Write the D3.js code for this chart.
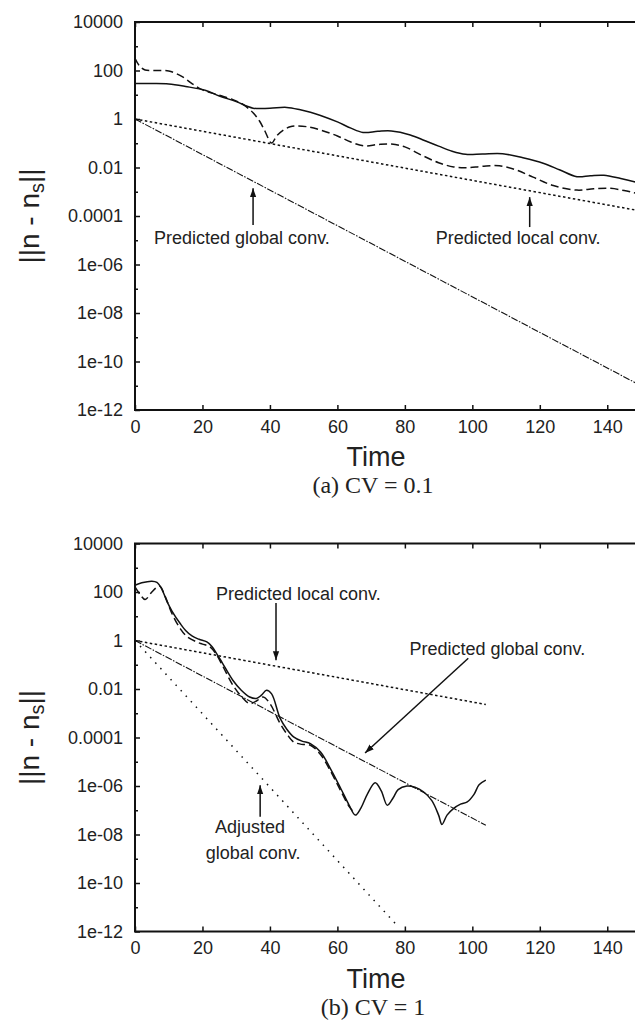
<!DOCTYPE html>
<html>
<head>
<meta charset="utf-8">
<script src="https://cdn.jsdelivr.net/npm/d3@7"></script>
<style>
  body { margin: 0; background: #fff; }
  svg { display: block; }
  .tick text { font-family: "Liberation Sans", Arial, sans-serif; font-size: 18px; fill: #222; }
  .tick line { stroke: #111; stroke-width: 1.5; }
  .note { font-family: "Liberation Sans", Arial, sans-serif; font-size: 18px; fill: #222; }
</style>
</head>
<body>
<script>
// time axis and norm axis
const xTicks = [0, 20, 40, 60, 80, 100, 120, 140]
const yMajor = [1e4, 1e2, 1, 1e-2, 1e-4, 1e-6, 1e-8, 1e-10, 1e-12]
const yMinor = [1e3, 1e1, 1e-1, 1e-3, 1e-5, 1e-7, 1e-9, 1e-11]
const yLabels = ['10000', '100', '1', '0.01', '0.0001', '1e-06', '1e-08', '1e-10', '1e-12']

// panel (a) CV = 0.1 : [time, norm]
const aSolid = [[0, 29], [5, 29], [10, 28], [15, 22], [21, 15], [25, 8.9], [30, 5.2], [35, 2.8], [40, 2.8],
  [45, 3.0], [49, 2.4], [52, 1.9], [55, 1.4], [60, 0.76], [64, 0.42], [67.6, 0.28], [72, 0.31], [76, 0.32],
  [81.6, 0.22], [86, 0.126], [90, 0.076], [94, 0.047], [98, 0.035], [103, 0.036], [109, 0.037], [115, 0.025],
  [121, 0.015], [126, 0.0079], [131, 0.0042], [135, 0.0046], [139, 0.0048], [144, 0.0035], [148, 0.0026], [150, 0.0022]]
const aDashed = [[0, 316], [1, 178], [2, 126], [3, 105], [6, 100], [10, 95], [14, 56], [17, 28], [20, 15.8],
  [25, 9.5], [29, 6.3], [32, 4.0], [35, 1.8], [37, 0.79], [38.5, 0.32], [40.5, 0.102], [42, 0.2], [44, 0.35],
  [46, 0.48], [48, 0.52], [51, 0.48], [55, 0.35], [60, 0.2], [64, 0.112], [68, 0.078], [72, 0.089], [76, 0.093],
  [80, 0.071], [85, 0.032], [90, 0.0158], [94.5, 0.0105], [98.5, 0.0098], [103, 0.0112], [108, 0.0117],
  [113, 0.0079], [118, 0.004], [124, 0.0018], [131, 0.00117], [136, 0.00132], [141, 0.00138], [145, 0.00112],
  [148, 0.00091], [150, 0.00079]]
const aLocal = [[0, 1], [150, 1.6e-4]]
const aGlobal = [[0, 1], [150, 1e-11]]
const aArrows = [[35, 4.3e-5, 1.4e-3], [117, 3.5e-5, 6e-4]]
const aNotes = [['Predicted global conv.', 31.7, 1.23e-5], ['Predicted local conv.', 113.6, 1.23e-5]]

// panel (b) CV = 1
const bSolid = [[0, 190], [2, 240], [5, 280], [6.5, 250], [8, 126], [9.5, 40], [11, 16], [13.4, 5], [15, 2.6],
  [17, 1.5], [19, 1.12], [21.3, 0.87], [22.8, 0.56], [24.2, 0.29], [26, 0.112], [29, 0.023], [31.5, 0.0089],
  [34, 0.0047], [36, 0.0041], [37.5, 0.0056], [39, 0.0089], [40.5, 0.0063], [43, 6.3e-4], [45, 2.2e-4],
  [47, 1.07e-4], [49.5, 7.1e-5], [52, 5.6e-5], [55, 2.5e-5], [58, 5e-6], [61, 7.9e-7], [63.5, 1.6e-7],
  [65.3, 6.3e-8], [67, 1.26e-7], [69, 5e-7], [71.2, 1.35e-6], [73, 6.3e-7], [74.8, 1.6e-7], [76.5, 3.2e-7],
  [78, 7.1e-7], [80.6, 1e-6], [83, 8.9e-7], [85.5, 5.8e-7], [88, 2.5e-7], [90, 6.3e-8], [91, 2.6e-8],
  [92.5, 6.3e-8], [94.4, 1.17e-7], [96.5, 1.78e-7], [98.5, 2.2e-7], [100.5, 4.5e-7], [102, 1.12e-6], [104, 1.74e-6]]
const bDashed = [[0, 162], [1.5, 79], [3, 49], [5, 100], [6.5, 158], [7.4, 174], [9, 63], [11, 12.6],
  [13.4, 3.1], [15.5, 1.41], [18.3, 0.87], [20, 0.71], [22.2, 0.55], [24, 0.28], [26, 0.089], [29, 0.0145],
  [31.5, 0.005], [34, 0.0025], [36, 0.0032], [38, 0.0047], [40, 0.0025], [43, 3.8e-4], [45, 1.41e-4],
  [47, 6.6e-5], [49.5, 5.2e-5], [52, 4.8e-5], [55, 2e-5], [58, 4e-6], [61, 6.3e-7], [63.5, 1.41e-7], [65, 7.9e-8]]
const bLocal = [[0, 1], [104, 2.3e-3]]
const bGlobal = [[0, 1], [104, 2.4e-8]]
const bAdjusted = [[0, 1], [78, 1.6e-12]]
const bArrows = [[41.8, 35, 0.155], [37.1, 5.4e-8, 1.07e-6]]
const bSlantArrow = [[98.8, 0.186], [68.2, 2.3e-5]]
const bNotes = [['Predicted local conv.', 48.4, 89], ['Predicted global conv.', 107.4, 0.48],
  ['Adjusted', 34.1, 2.04e-8], ['global conv.', 35, 1.7e-9]]

const width = 635, height = 1026
const panelH = 388, left = 135, right = 641

const svg = d3.select('body').append('svg')
  .attr('width', width).attr('height', height)

const defs = svg.append('defs')
defs.append('marker')
  .attr('id', 'head')
  .attr('viewBox', '0 0 10 10')
  .attr('refX', 10).attr('refY', 5)
  .attr('markerWidth', 9).attr('markerHeight', 9)
  .attr('markerUnits', 'userSpaceOnUse')
  .attr('orient', 'auto')
  .append('path').attr('d', 'M0,1.5 L10,5 L0,8.5 Z').attr('fill', '#111')

const x = d3.scaleLinear().domain([0, 150]).range([0, right - left])
const y = d3.scaleLog().domain([1e-12, 1e4]).range([panelH, 0])

const line = d3.line().x((d) => x(d[0])).y((d) => y(d[1])).curve(d3.curveCatmullRom.alpha(0.5))
const straight = d3.line().x((d) => x(d[0])).y((d) => y(d[1]))

function drawPanel(top, caption, draw) {
  const g = svg.append('g').attr('transform', `translate(${left},${top})`)

  // ticks, all pointing inward like gnuplot
  g.append('g').attr('transform', `translate(0,${panelH})`)
    .call(d3.axisBottom(x).tickValues(xTicks).tickSizeInner(-5).tickSizeOuter(0).tickPadding(10))
  g.append('g')
    .call(d3.axisTop(x).tickValues(xTicks).tickSizeInner(-5).tickSizeOuter(0).tickFormat(''))
  g.append('g')
    .call(d3.axisLeft(y).tickValues(yMajor).tickSizeInner(-5).tickSizeOuter(0).tickPadding(12)
      .tickFormat((d, i) => yLabels[i]))
  g.append('g')
    .call(d3.axisLeft(y).tickValues(yMinor).tickSizeInner(-3).tickSizeOuter(0).tickFormat(''))
  g.selectAll('.domain').remove()
  g.selectAll('.tick text').attr('font-family', null).attr('font-size', null)

  g.append('rect')
    .attr('width', x(150)).attr('height', panelH)
    .attr('fill', 'none').attr('stroke', '#111').attr('stroke-width', 2)

  draw(g)

  // axis titles
  const yl = svg.append('text')
    .attr('transform', `translate(39,${top + panelH / 2}) rotate(-90)`)
    .attr('text-anchor', 'middle')
    .attr('font-family', '"Liberation Sans", Arial, sans-serif')
    .attr('font-size', 28).attr('fill', '#222')
  yl.append('tspan').text('||n - n')
  yl.append('tspan').text('s').attr('font-size', 20).attr('dy', 5)
  yl.append('tspan').text('||').attr('dy', -5)

  svg.append('text')
    .attr('x', 376).attr('y', top + panelH + 56)
    .attr('text-anchor', 'middle')
    .attr('font-family', '"Liberation Sans", Arial, sans-serif')
    .attr('font-size', 27).attr('fill', '#222')
    .text('Time')

  svg.append('text')
    .attr('x', 373).attr('y', top + panelH + 83)
    .attr('text-anchor', 'middle')
    .attr('font-family', '"Liberation Serif", "Times New Roman", serif')
    .attr('font-size', 24).attr('fill', '#222')
    .text(caption)
}

function curve(g, pts, dash, w, gen) {
  g.append('path')
    .attr('d', (gen || line)(pts))
    .attr('fill', 'none').attr('stroke', '#111')
    .attr('stroke-width', w)
    .attr('stroke-dasharray', dash)
}

function arrows(g, list) {
  list.forEach((a) => {
    g.append('line')
      .attr('x1', x(a[0])).attr('x2', x(a[0]))
      .attr('y1', y(a[1])).attr('y2', y(a[2]))
      .attr('stroke', '#111').attr('stroke-width', 1.5)
      .attr('marker-end', 'url(#head)')
  })
}

function notes(g, list) {
  g.selectAll(null).data(list).enter().append('text')
    .classed('note', true)
    .attr('text-anchor', 'middle')
    .attr('x', (d) => x(d[1])).attr('y', (d) => y(d[2]))
    .attr('dy', '0.35em')
    .text((d) => d[0])
}

drawPanel(22, '(a) CV = 0.1', (g) => {
  curve(g, aLocal, '2.5,2.5', 1.5, straight)
  curve(g, aGlobal, '7,1.5,1.5,1.5', 1.1, straight)
  curve(g, aDashed, '8,4', 1.5)
  curve(g, aSolid, null, 1.5)
  arrows(g, aArrows)
  notes(g, aNotes)
})

drawPanel(543.5, '(b) CV = 1', (g) => {
  curve(g, bLocal, '2.5,2.5', 1.5, straight)
  curve(g, bAdjusted, '1.5,6', 1.5, straight)
  curve(g, bGlobal, '7,1.5,1.5,1.5', 1.1, straight)
  curve(g, bDashed, '8,4', 1.5)
  curve(g, bSolid, null, 1.5)
  arrows(g, bArrows)
  g.append('line')
    .attr('x1', x(bSlantArrow[0][0])).attr('y1', y(bSlantArrow[0][1]))
    .attr('x2', x(bSlantArrow[1][0])).attr('y2', y(bSlantArrow[1][1]))
    .attr('stroke', '#111').attr('stroke-width', 1.5)
    .attr('marker-end', 'url(#head)')
  notes(g, bNotes)
})
</script>
</body>
</html>
